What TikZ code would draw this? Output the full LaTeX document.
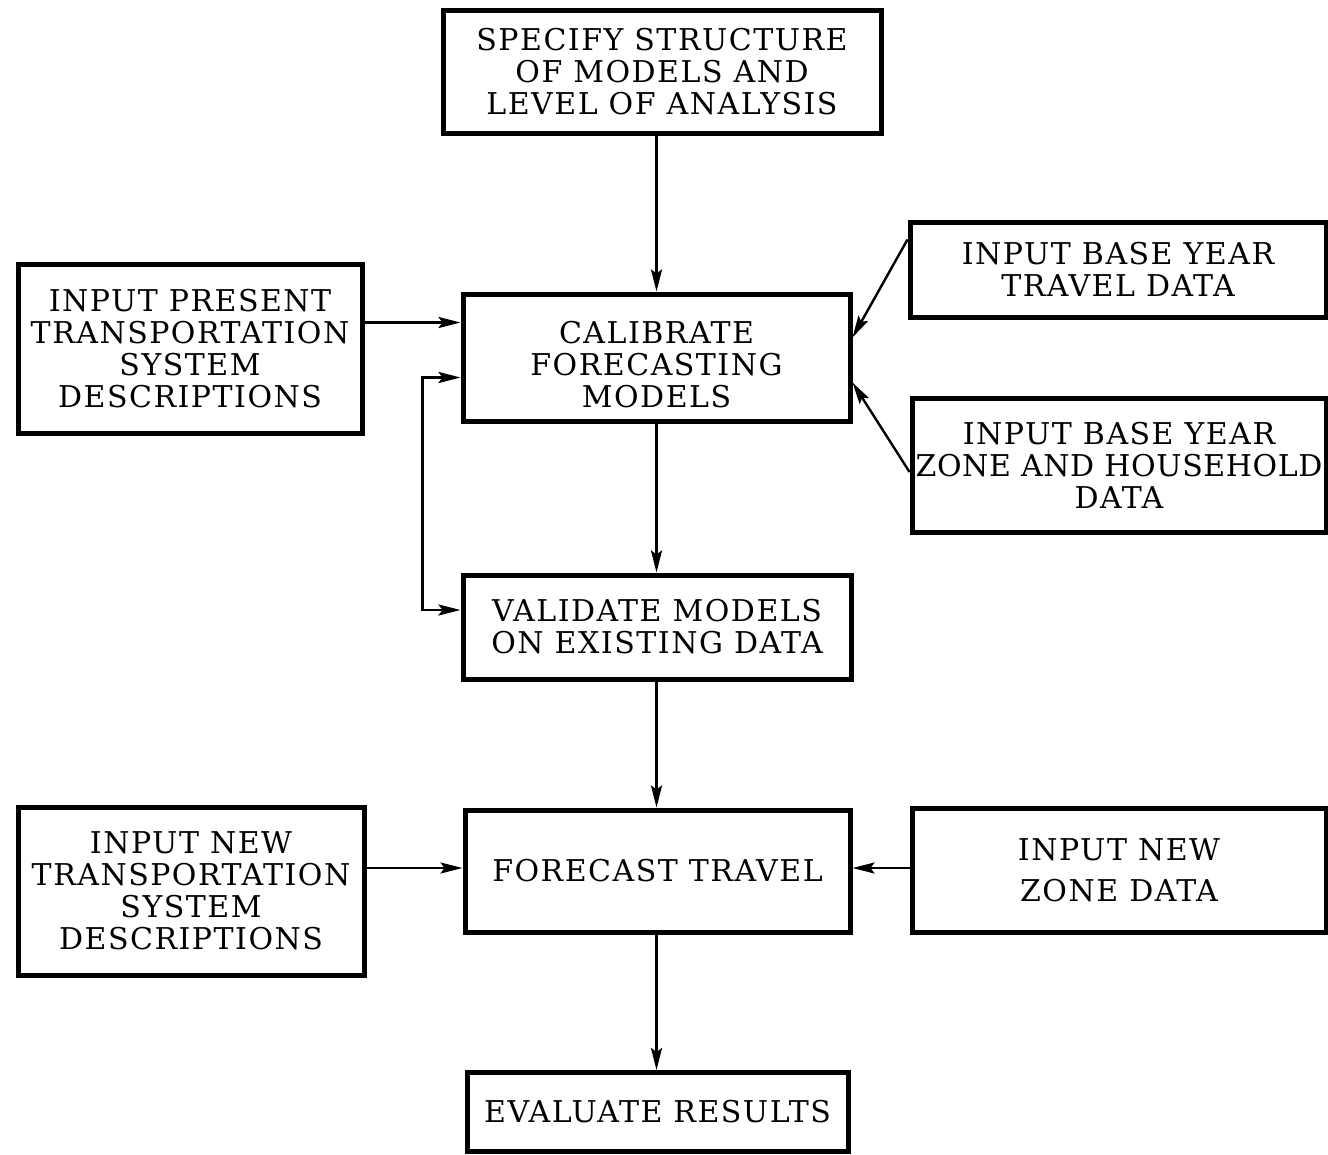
\documentclass[tikz,border=0pt]{standalone}
\usepackage{fontspec}
\setmainfont[LetterSpace=5]{DejaVu Serif}
\newfontfamily\tightserif[LetterSpace=2]{DejaVu Serif}
\usetikzlibrary{arrows.meta}
\begin{document}
\begin{tikzpicture}[x=1pt,y=1pt,
  every node/.style={font=\fontsize{30}{32}\selectfont},
  stagebox/.style={draw=black,line width=5pt,rectangle,inner sep=0pt,align=center},
  flow/.style={line width=2.4pt,-{Stealth[length=22pt,width=11pt,inset=4pt]}},
  twoway/.style={line width=2.4pt,{Stealth[length=22pt,width=11pt,inset=4pt]}-{Stealth[length=22pt,width=11pt,inset=4pt]}}]
\useasboundingbox[fill=white] (0,0) rectangle (1328,-1154);

% central chain
\node[stagebox,minimum width=438pt,minimum height=123pt] (spec) at (662,-71.5)
  {SPECIFY STRUCTURE\\OF MODELS AND\\LEVEL OF ANALYSIS};
\node[stagebox,minimum width=387pt,minimum height=127pt] (cal) at (656.5,-357.5) {};
\node[align=center] (caltext) at (656.5,-365) {CALIBRATE\\FORECASTING\\MODELS};
\node[stagebox,minimum width=388pt,minimum height=104pt] (val) at (657,-627)
  {VALIDATE MODELS\\ON EXISTING DATA};
\node[stagebox,minimum width=385pt,minimum height=122pt] (fc) at (657.5,-871)
  {FORECAST TRAVEL};
\node[stagebox,minimum width=381pt,minimum height=79pt] (eval) at (657.5,-1112)
  {EVALUATE RESULTS};

% input boxes
\node[stagebox,minimum width=344pt,minimum height=169pt] (present) at (190,-348.5)
  {INPUT PRESENT\\TRANSPORTATION\\SYSTEM\\DESCRIPTIONS};
\node[stagebox,minimum width=416pt,minimum height=95pt] (travel) at (1118,-269.5)
  {INPUT BASE YEAR\\TRAVEL DATA};
\node[stagebox,minimum width=414pt,minimum height=134pt] (zonebase) at (1119,-465)
  {INPUT BASE YEAR\\{\tightserif ZONE AND HOUSEHOLD}\\DATA};
\node[stagebox,minimum width=346pt,minimum height=168pt] (newtr) at (191,-891)
  {INPUT NEW\\TRANSPORTATION\\SYSTEM\\DESCRIPTIONS};
\node[stagebox,minimum width=414pt,minimum height=124pt] (newzone) at (1119,-870)
  {INPUT NEW\\[9pt]ZONE DATA};

% connectors
\draw[flow] (spec.south -| cal.north) -- (cal.north);
\draw[flow] (cal.south) -- (cal.south |- val.north);
\draw[flow] (cal.south |- val.south) -- (cal.south |- fc.north);
\draw[flow] (cal.south |- fc.south) -- (cal.south |- eval.north);

\draw[flow] ([yshift=26pt]present.east) -- ([yshift=26pt]present.east -| cal.west);
\draw[twoway] ([yshift=-20pt]cal.west) -- ++(-38pt,0) |- ([yshift=17pt]val.west);

\draw[flow] ([yshift=30pt]travel.west) -- ([yshift=20pt]cal.east);
\draw[flow] ([yshift=-7pt]zonebase.west) -- ([yshift=-25pt]cal.east);

\draw[flow] ([yshift=23pt]newtr.east) -- ([yshift=23pt]newtr.east -| fc.west);
\draw[flow] ([yshift=2pt]newzone.west) -- ([yshift=2pt]newzone.west -| fc.east);
\end{tikzpicture}
\end{document}
